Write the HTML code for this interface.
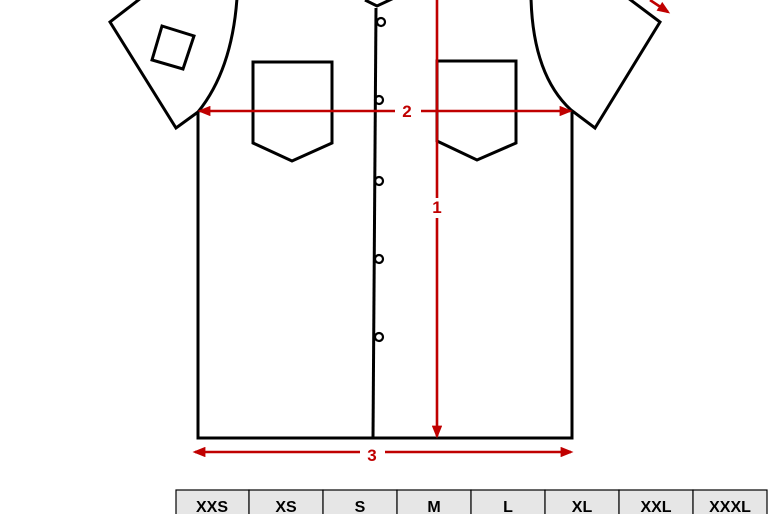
<!DOCTYPE html>
<html><head><style>body{margin:0;background:#fff}svg{display:block}</style></head><body>
<svg width="772" height="514" viewBox="0 0 772 514" xmlns="http://www.w3.org/2000/svg">
<defs><marker id="a" markerWidth="5" markerHeight="4" refX="4" refY="2" orient="auto"><path d="M0,0L5,2L0,4z" fill="#c00000"/></marker></defs>
<g fill="none" stroke="#000" stroke-width="3" stroke-linejoin="miter">
<path d="M141,-2 L110,22 L176,128 L198,112 Q232,70 237,-2"/>
<path d="M162,26 L194,36 L183,69 L152,60 Z"/>
<path d="M628,-2 L660,22 L595,128 L571,110 Q533,75 531,-2"/>
<path d="M253,62 L332,62 L332,143 L292,161 L253,143 Z"/>
<path d="M437,61 L516,61 L516,143 L477,160 L437,141 Z"/>
<path d="M198,112 L198,438 L572,438 L572,110"/>
<path d="M376,8 L373,438"/>
<path d="M365,0 L377,6 L394,-2"/>
<circle cx="381" cy="22" r="4" stroke-width="2.2"/>
<circle cx="379" cy="100" r="4" stroke-width="2.2"/>
<circle cx="379" cy="181" r="4" stroke-width="2.2"/>
<circle cx="379" cy="259" r="4" stroke-width="2.2"/>
<circle cx="379" cy="337" r="4" stroke-width="2.2"/>
</g>
<g stroke="#c00000" stroke-width="2.6" fill="none">
<path d="M437,0 L437,436" marker-end="url(#a)"/>
<path d="M395,111 L200,111" marker-end="url(#a)"/>
<path d="M421,111 L570,111" marker-end="url(#a)"/>
<path d="M360,452 L195,452" marker-end="url(#a)"/>
<path d="M385,452 L571,452" marker-end="url(#a)"/>
<path d="M650,0 L668,12" marker-end="url(#a)"/>
</g>
<rect x="428" y="198" width="18" height="20" fill="#fff"/>
<g fill="#c00000" font-family="Liberation Sans, sans-serif" font-weight="bold" font-size="17" text-anchor="middle">
<text x="437" y="213">1</text>
<text x="407" y="117">2</text>
<text x="372" y="461">3</text>
</g>
<g stroke="#000" stroke-width="1.2" fill="#e6e6e6">
<rect x="176" y="490" width="73" height="30"/><rect x="249" y="490" width="74" height="30"/>
<rect x="323" y="490" width="74" height="30"/><rect x="397" y="490" width="74" height="30"/>
<rect x="471" y="490" width="74" height="30"/><rect x="545" y="490" width="74" height="30"/>
<rect x="619" y="490" width="74" height="30"/><rect x="693" y="490" width="74" height="30"/>
</g>
<g fill="#000" font-family="Liberation Sans, sans-serif" font-weight="bold" font-size="16" text-anchor="middle">
<text x="212" y="512">XXS</text><text x="286" y="512">XS</text><text x="360" y="512">S</text>
<text x="434" y="512">M</text><text x="508" y="512">L</text><text x="582" y="512">XL</text>
<text x="656" y="512">XXL</text><text x="730" y="512">XXXL</text>
</g>
</svg>
</body></html>
